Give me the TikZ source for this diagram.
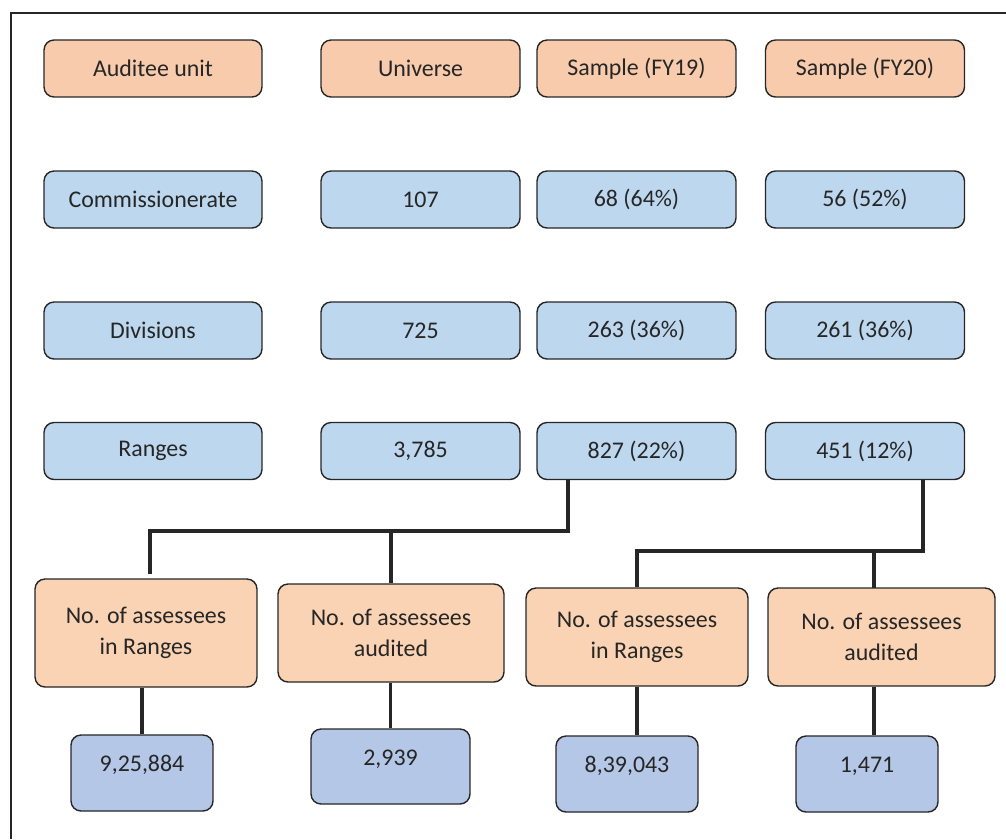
\documentclass[tikz,border=0pt]{standalone}
\usepackage{fontspec}
\setmainfont{Carlito}
\usepackage{xcolor}
\usepackage{tikz}
\usetikzlibrary{positioning,calc}
\definecolor{headfill}{HTML}{F8CBAD}
\definecolor{cellfill}{HTML}{BDD7EE}
\definecolor{countfill}{HTML}{F9D3B3}
\definecolor{valuefill}{HTML}{B4C7E7}
\definecolor{inkdark}{HTML}{262626}

\begin{document}
\begin{tikzpicture}[
    x=0.02cm, y=-0.02cm,
    head/.style={
        rectangle,
        rounded corners=0.2cm,
        minimum width=3.98cm,
        minimum height=1.14cm,
        align=center,
        font=\fontsize{13.6}{18}\selectfont,
        text=inkdark,
        fill=headfill,
        draw=inkdark,
        line width=0.8pt
    },
    cell/.style={
        head,
        fill=cellfill
    },
    count/.style={
        head,
        minimum width=4.44cm,
        minimum height=1.96cm,
        fill=countfill
    },
    value/.style={
        head,
        minimum width=2.84cm,
        minimum height=1.52cm,
        text height=0.3cm,
        text depth=0.36cm,
        fill=valuefill
    },
    link/.style={
        line width=2pt,
        color=inkdark
    }
]
\useasboundingbox (0,0) rectangle (1006,839);

% Outer frame
\draw[line width=1pt, inkdark] (11,839) -- (11,13) -- (1006,13);

% Header row
\node[head, minimum width=4.36cm] (hUnit) at (153,68.5) {Auditee unit};
\node[head] (hUniv) at (420.5,68.5) {Universe};
\node[head] (hFY19) at (636.5,68.5) {Sample (FY19)};
\node[head] (hFY20) at (865,68.5) {Sample (FY20)};

% Commissionerate
\node[cell, minimum width=4.36cm] (cUnit) at (153,199.5) {Commissionerate};
\node[cell] (cUniv) at (420.5,199.5) {107};
\node[cell] (cFY19) at (636.5,199.5) {68 (64\%)};
\node[cell] (cFY20) at (865,199.5) {56 (52\%)};

% Divisions
\node[cell, minimum width=4.36cm] (dUnit) at (153,330.5) {Divisions};
\node[cell] (dUniv) at (420.5,330.5) {725};
\node[cell] (dFY19) at (636.5,330.5) {263 (36\%)};
\node[cell] (dFY20) at (865,330.5) {261 (36\%)};

% Ranges
\node[cell, minimum width=4.36cm] (rUnit) at (153,451) {Ranges};
\node[cell] (rUniv) at (420.5,451) {3,785};
\node[cell] (rFY19) at (636.5,451) {827 (22\%)};
\node[cell] (rFY20) at (865,451) {451 (12\%)};

% Assessees
\node[count, minimum height=2.16cm] (nRng19) at (146,633) {No. of assessees\\in Ranges};
\node[count, minimum width=4.52cm] (nAud19) at (391,633) {No. of assessees\\audited};
\node[count] (nRng20) at (637,637) {No. of assessees\\in Ranges};
\node[count, minimum width=4.54cm] (nAud20) at (881.5,637) {No. of assessees\\audited};

% Figures
\node[value] (vRng19) at (142,773) {9,25,884};
\node[value, minimum width=3.18cm, minimum height=1.5cm] (vAud19) at (390.5,766.5) {2,939};
\node[value] (vRng20) at (627,774) {8,39,043};
\node[value] (vAud20) at (867,774) {1,471};

% Branch points
\coordinate (j19) at (568,531);
\coordinate (j20) at (923,551);

% FY19 tree
\draw[link] (rFY19.south -| j19) -- (j19) -- (j19 -| 150,0) -- (150,574);
\draw[link] (j19 -| nAud19.north) -- (nAud19.north);
\draw[link] (nRng19.south -| vRng19.north) -- (vRng19.north);
\draw[link] (nAud19.south -| vAud19.north) -- (vAud19.north);

% FY20 tree
\draw[link] (rFY20.south -| j20) -- (j20) -- (j20 -| nRng20.north) -- (nRng20.north);
\draw[link] (j20 -| 874,0) -- (874,588);
\draw[link] (nRng20.south) -- (nRng20.south |- vRng20.north);
\draw[link] (nAud20.south -| 874,0) -- (vAud20.north -| 874,0);

\end{tikzpicture}
\end{document}
